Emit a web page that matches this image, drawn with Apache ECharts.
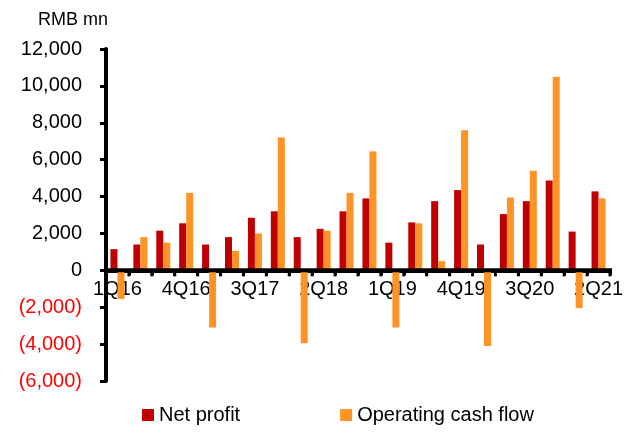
<!DOCTYPE html>
<html><head><meta charset="utf-8">
<script src="https://cdn.jsdelivr.net/npm/echarts@6/dist/echarts.min.js"></script>
<style>html,body{margin:0;padding:0;background:#fff}#c{width:636px;height:434px}</style>
</head><body><div id="c"></div>
<script>
const categories = ['1Q16','2Q16','3Q16','4Q16','1Q17','2Q17','3Q17','4Q17','1Q18','2Q18','3Q18','4Q18','1Q19','2Q19','3Q19','4Q19','1Q20','2Q20','3Q20','4Q20','1Q21','2Q21'];
const netProfit = [1150,1400,2150,2550,1400,1800,2850,3200,1800,2250,3200,3900,1500,2600,3750,4350,1400,3050,3750,4870,2100,4280];
const operatingCashFlow = [-1550,1800,1500,4200,-3100,1050,2000,7200,-3950,2150,4200,6450,-3100,2550,500,7600,-4100,3950,5400,10500,-2050,3900];
const seriesNames = ['Net profit','Operating cash flow'];
const unitLabel = 'RMB mn';

const font = 'Liberation Sans, Arial, sans-serif';
const black = '#000000';
const chart = echarts.init(document.getElementById('c'));
function fmt(v){
  const s = Math.abs(v).toLocaleString('en-US');
  return v < 0 ? '{n|(' + s + ')}' : '{p|' + s + '}';
}
const gridLeft = 106, gridRight = 26, gridTop = 49, gridBottom = 53, yMin = -6000, yMax = 12000;
const plotH = 434 - gridTop - gridBottom;
const zeroOffset = -plotH * (0 - yMin) / (yMax - yMin);
chart.setOption({
  animation:false,
  textStyle:{fontFamily:font},
  graphic:[{type:'text',left:38,top:11,style:{text:unitLabel,font:'18px '+font,fill:'#000'}}],
  grid:{left:gridLeft,right:gridRight,top:gridTop,bottom:gridBottom,containLabel:false},
  legend:{bottom:4,left:137,itemWidth:12,itemHeight:12,itemGap:100,icon:'rect',
    textStyle:{fontSize:20,color:'#000',fontFamily:font},data:seriesNames},
  xAxis:[
    {type:'category',data:categories,position:'bottom',
      axisLine:{show:true,onZero:true,lineStyle:{color:black,width:4}},
      axisTick:{show:true,interval:0,length:5,lineStyle:{color:black,width:3}},
      axisLabel:{show:false}},
    {type:'category',data:categories,position:'bottom',offset:zeroOffset,
      axisLine:{show:false,onZero:false},
      axisTick:{show:false},
      axisLabel:{show:true,interval:2,fontSize:20,color:'#000',margin:9,fontFamily:font}}
  ],
  yAxis:{type:'value',min:yMin,max:yMax,interval:2000,
    splitLine:{show:false},
    axisLine:{show:true,onZero:false,lineStyle:{color:black,width:4}},
    axisTick:{show:true,length:6,lineStyle:{color:black,width:3}},
    axisLabel:{margin:24,formatter:fmt,
      rich:{p:{fontSize:20,color:'#000',fontFamily:font},n:{fontSize:20,color:'#FF0000',fontFamily:font}}}},
  series:[
    {name:seriesNames[0],type:'bar',xAxisIndex:0,data:netProfit,barWidth:7,barGap:'0%',itemStyle:{color:'#C00000'}},
    {name:seriesNames[1],type:'bar',xAxisIndex:0,data:operatingCashFlow,barWidth:7,barGap:'0%',itemStyle:{color:'#FF9326'}}
  ]
});
// zero baseline and category boundary ticks, positioned through the library's own scales
const zeroY = chart.convertToPixel({yAxisIndex:0}, 0);
const x0 = chart.convertToPixel({xAxisIndex:0}, 0);
const x1 = chart.convertToPixel({xAxisIndex:0}, 1);
const step = x1 - x0;
const extra = [{type:'rect',z:100,shape:{x:gridLeft-2,y:zeroY-2,width:636-gridRight-gridLeft+4,height:4},style:{fill:black}}];
for (let i = 0; i <= categories.length; i++) {
  const bx = x0 - step/2 + i*step;
  extra.push({type:'rect',z:100,shape:{x:bx-1.5,y:zeroY,width:3,height:6},style:{fill:black}});
}
chart.setOption({graphic:[{type:'text',left:38,top:11,style:{text:unitLabel,font:'18px '+font,fill:'#000'}}].concat(extra)}, {replaceMerge:['graphic']});
</script></body></html>
